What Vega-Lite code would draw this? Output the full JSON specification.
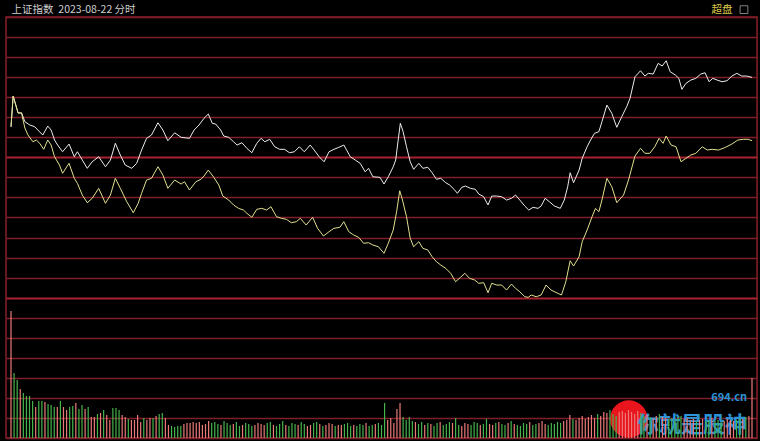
{
"$schema": "https://vega.github.io/schema/vega-lite/v6.json",
"width": 751, "height": 421,
"autosize": {"type": "none"},
"padding": {"left": 6, "top": 17, "right": 3, "bottom": 3},
"background": "#000000",
"config": {"view": {"stroke": "#8c1f2a", "strokeWidth": 1.5}, "font": "Noto Sans CJK SC"},
"datasets": {
"w": [{"m":0,"p":3103.70},{"m":0.7,"p":3114.45},{"m":2.3,"p":3108.50},{"m":3.4,"p":3108.61},{"m":4.5,"p":3105.45},{"m":6.1,"p":3104.30},{"m":7.7,"p":3103.70},{"m":8.7,"p":3102.55},{"m":10.3,"p":3100.80},{"m":11.9,"p":3103.95},{"m":13.0,"p":3102.55},{"m":14.1,"p":3099.05},{"m":15.1,"p":3097.30},{"m":16.7,"p":3094.95},{"m":18.8,"p":3097.65},{"m":20.5,"p":3093.20},{"m":21.5,"p":3094.95},{"m":23.1,"p":3092.05},{"m":24.7,"p":3089.15},{"m":26.3,"p":3091.45},{"m":28.4,"p":3093.20},{"m":30.6,"p":3089.70},{"m":32.2,"p":3092.05},{"m":33.8,"p":3097.90},{"m":35.4,"p":3093.80},{"m":37.0,"p":3090.30},{"m":39.1,"p":3089.15},{"m":40.7,"p":3090.90},{"m":42.3,"p":3095.55},{"m":43.9,"p":3099.65},{"m":45.5,"p":3100.80},{"m":47.6,"p":3105.10},{"m":49.2,"p":3102.55},{"m":50.8,"p":3098.80},{"m":53.0,"p":3101.60},{"m":55.1,"p":3100.00},{"m":57.8,"p":3099.65},{"m":59.3,"p":3102.55},{"m":60.9,"p":3104.30},{"m":62.5,"p":3106.65},{"m":63.9,"p":3108.15},{"m":65.2,"p":3104.90},{"m":66.3,"p":3104.65},{"m":67.9,"p":3102.55},{"m":68.9,"p":3100.45},{"m":70.5,"p":3100.00},{"m":72.1,"p":3098.45},{"m":73.2,"p":3097.30},{"m":74.8,"p":3098.11},{"m":76.4,"p":3096.15},{"m":78.0,"p":3094.61},{"m":79.6,"p":3097.90},{"m":81.0,"p":3099.65},{"m":82.2,"p":3098.45},{"m":83.8,"p":3099.30},{"m":85.4,"p":3096.70},{"m":87.0,"p":3095.80},{"m":88.6,"p":3095.80},{"m":90.2,"p":3094.61},{"m":91.8,"p":3094.95},{"m":93.4,"p":3096.70},{"m":95.0,"p":3094.95},{"m":96.9,"p":3097.30},{"m":98.2,"p":3095.55},{"m":99.8,"p":3093.20},{"m":101.4,"p":3091.45},{"m":103.0,"p":3094.95},{"m":104.6,"p":3095.80},{"m":106.2,"p":3096.50},{"m":107.8,"p":3097.30},{"m":109.9,"p":3093.20},{"m":111.5,"p":3092.05},{"m":113.1,"p":3090.90},{"m":114.7,"p":3087.95},{"m":115.8,"p":3089.15},{"m":117.2,"p":3086.20},{"m":119.5,"p":3085.99},{"m":120.8,"p":3083.65},{"m":122.2,"p":3086.20},{"m":123.8,"p":3089.70},{"m":124.6,"p":3092.05},{"m":125.4,"p":3099.05},{"m":126.1,"p":3104.90},{"m":127.0,"p":3101.96},{"m":128.1,"p":3096.70},{"m":129.3,"p":3091.45},{"m":130.4,"p":3088.80},{"m":132.1,"p":3090.90},{"m":133.4,"p":3089.15},{"m":135.0,"p":3089.50},{"m":136.4,"p":3087.60},{"m":137.8,"p":3085.30},{"m":139.2,"p":3085.65},{"m":140.8,"p":3084.11},{"m":142.1,"p":3083.30},{"m":143.5,"p":3081.80},{"m":144.6,"p":3080.40},{"m":146.0,"p":3082.50},{"m":147.2,"p":3082.95},{"m":148.8,"p":3082.15},{"m":150.4,"p":3081.80},{"m":151.5,"p":3080.15},{"m":153.1,"p":3079.21},{"m":154.5,"p":3076.30},{"m":155.7,"p":3079.45},{"m":157.3,"p":3079.45},{"m":158.9,"p":3079.21},{"m":160.5,"p":3078.05},{"m":162.1,"p":3078.65},{"m":163.4,"p":3079.80},{"m":164.8,"p":3078.05},{"m":166.4,"p":3075.95},{"m":167.7,"p":3074.55},{"m":169.1,"p":3075.50},{"m":170.7,"p":3075.14},{"m":171.7,"p":3075.95},{"m":173.0,"p":3078.65},{"m":174.4,"p":3077.45},{"m":176.0,"p":3075.95},{"m":177.9,"p":3075.14},{"m":179.2,"p":3078.05},{"m":180.3,"p":3082.70},{"m":181.1,"p":3087.60},{"m":182.2,"p":3084.11},{"m":184.0,"p":3088.55},{"m":185.0,"p":3092.64},{"m":186.6,"p":3096.70},{"m":187.7,"p":3099.05},{"m":189.0,"p":3101.40},{"m":190.4,"p":3101.96},{"m":191.4,"p":3105.45},{"m":193.0,"p":3111.30},{"m":194.6,"p":3108.40},{"m":196.2,"p":3103.50},{"m":197.8,"p":3107.20},{"m":199.4,"p":3110.70},{"m":200.5,"p":3113.65},{"m":202.1,"p":3121.20},{"m":203.9,"p":3123.30},{"m":205.3,"p":3121.45},{"m":206.4,"p":3122.40},{"m":208.0,"p":3122.15},{"m":209.6,"p":3125.90},{"m":210.9,"p":3124.95},{"m":212.2,"p":3126.80},{"m":213.5,"p":3122.96},{"m":215.2,"p":3121.80},{"m":216.3,"p":3120.64},{"m":217.3,"p":3116.80},{"m":218.6,"p":3118.90},{"m":220.2,"p":3120.05},{"m":221.8,"p":3120.64},{"m":223.4,"p":3122.15},{"m":224.8,"p":3122.61},{"m":226.1,"p":3119.46},{"m":227.3,"p":3120.64},{"m":228.7,"p":3120.05},{"m":230.3,"p":3119.46},{"m":231.9,"p":3119.81},{"m":233.5,"p":3121.45},{"m":235.1,"p":3122.40},{"m":236.7,"p":3121.45},{"m":238.3,"p":3121.45},{"m":240,"p":3120.99}],
"y": [{"m":0,"p":3103.70},{"m":0.7,"p":3114.45},{"m":2.3,"p":3108.50},{"m":3.4,"p":3108.50},{"m":4.5,"p":3103.25},{"m":5.5,"p":3100.80},{"m":7.1,"p":3098.45},{"m":8.2,"p":3099.05},{"m":9.3,"p":3097.90},{"m":10.6,"p":3095.80},{"m":11.9,"p":3099.05},{"m":13.0,"p":3097.30},{"m":14.1,"p":3093.20},{"m":15.7,"p":3090.30},{"m":16.7,"p":3087.40},{"m":18.8,"p":3090.90},{"m":20.5,"p":3085.65},{"m":21.5,"p":3083.90},{"m":23.1,"p":3079.80},{"m":24.7,"p":3077.11},{"m":26.3,"p":3078.65},{"m":28.4,"p":3082.15},{"m":30.6,"p":3076.90},{"m":32.2,"p":3079.80},{"m":33.8,"p":3085.65},{"m":35.4,"p":3082.15},{"m":37.5,"p":3077.45},{"m":39.6,"p":3073.60},{"m":41.2,"p":3076.90},{"m":42.3,"p":3080.40},{"m":43.9,"p":3085.05},{"m":45.5,"p":3085.65},{"m":47.6,"p":3089.70},{"m":49.2,"p":3086.80},{"m":50.8,"p":3082.15},{"m":53.0,"p":3085.05},{"m":55.1,"p":3083.65},{"m":56.2,"p":3084.46},{"m":57.8,"p":3081.55},{"m":59.9,"p":3084.46},{"m":61.5,"p":3085.30},{"m":62.5,"p":3086.45},{"m":63.9,"p":3088.55},{"m":65.7,"p":3085.99},{"m":67.3,"p":3083.30},{"m":68.6,"p":3079.45},{"m":70.5,"p":3078.05},{"m":72.1,"p":3076.30},{"m":73.7,"p":3075.14},{"m":75.3,"p":3074.55},{"m":76.4,"p":3073.40},{"m":78.0,"p":3072.00},{"m":79.6,"p":3074.80},{"m":81.2,"p":3075.14},{"m":82.8,"p":3074.55},{"m":84.2,"p":3075.70},{"m":86.0,"p":3072.21},{"m":87.6,"p":3071.65},{"m":89.2,"p":3071.30},{"m":90.8,"p":3070.11},{"m":92.4,"p":3070.46},{"m":93.7,"p":3071.65},{"m":95.6,"p":3069.30},{"m":97.7,"p":3072.00},{"m":99.3,"p":3068.15},{"m":101.2,"p":3065.45},{"m":103.0,"p":3066.96},{"m":104.6,"p":3068.15},{"m":106.5,"p":3068.50},{"m":107.8,"p":3070.46},{"m":109.4,"p":3066.96},{"m":111.0,"p":3065.80},{"m":112.6,"p":3064.99},{"m":114.2,"p":3062.90},{"m":115.8,"p":3063.11},{"m":117.2,"p":3062.30},{"m":119.0,"p":3061.70},{"m":120.8,"p":3059.40},{"m":122.2,"p":3062.90},{"m":123.8,"p":3067.55},{"m":124.9,"p":3073.96},{"m":125.9,"p":3081.30},{"m":126.8,"p":3078.05},{"m":128.1,"p":3072.21},{"m":129.3,"p":3064.65},{"m":130.4,"p":3061.70},{"m":132.1,"p":3063.46},{"m":133.4,"p":3061.14},{"m":135.0,"p":3060.55},{"m":136.4,"p":3058.20},{"m":137.8,"p":3056.46},{"m":139.2,"p":3055.30},{"m":140.8,"p":3054.14},{"m":142.4,"p":3052.40},{"m":144.0,"p":3049.46},{"m":145.6,"p":3051.00},{"m":147.0,"p":3052.40},{"m":148.5,"p":3050.64},{"m":150.2,"p":3050.05},{"m":151.5,"p":3048.90},{"m":153.1,"p":3049.11},{"m":154.5,"p":3045.61},{"m":155.7,"p":3048.90},{"m":157.3,"p":3048.30},{"m":158.9,"p":3048.30},{"m":160.5,"p":3046.55},{"m":162.1,"p":3048.65},{"m":163.4,"p":3047.14},{"m":164.8,"p":3045.95},{"m":166.4,"p":3044.20},{"m":167.5,"p":3043.99},{"m":168.5,"p":3044.80},{"m":170.1,"p":3044.20},{"m":171.7,"p":3044.80},{"m":173.3,"p":3048.30},{"m":174.9,"p":3046.55},{"m":177.1,"p":3045.40},{"m":178.3,"p":3044.80},{"m":179.7,"p":3049.46},{"m":181.1,"p":3056.80},{"m":182.2,"p":3054.95},{"m":184.0,"p":3058.20},{"m":185.0,"p":3063.46},{"m":186.6,"p":3067.55},{"m":188.2,"p":3072.21},{"m":189.3,"p":3075.14},{"m":190.4,"p":3073.96},{"m":191.4,"p":3078.05},{"m":193.0,"p":3085.65},{"m":194.6,"p":3082.70},{"m":196.2,"p":3077.11},{"m":198.4,"p":3079.80},{"m":200.0,"p":3085.05},{"m":202.1,"p":3093.45},{"m":203.9,"p":3096.15},{"m":205.3,"p":3094.40},{"m":206.9,"p":3094.40},{"m":208.5,"p":3096.70},{"m":209.9,"p":3099.65},{"m":211.2,"p":3097.90},{"m":212.2,"p":3100.45},{"m":213.8,"p":3097.30},{"m":215.4,"p":3096.70},{"m":217.0,"p":3091.45},{"m":218.6,"p":3092.64},{"m":220.2,"p":3093.80},{"m":221.8,"p":3094.40},{"m":223.9,"p":3096.70},{"m":225.5,"p":3095.55},{"m":227.1,"p":3095.80},{"m":229.2,"p":3095.55},{"m":231.4,"p":3096.50},{"m":233.5,"p":3097.65},{"m":235.4,"p":3099.05},{"m":237.2,"p":3099.30},{"m":238.8,"p":3099.30},{"m":240,"p":3098.80}],
"vol": [{"m":0,"v":127,"d":"up"},{"m":1,"v":65,"d":"dn"},{"m":2,"v":58,"d":"dn"},{"m":3,"v":49,"d":"up"},{"m":4,"v":45,"d":"dn"},{"m":5,"v":42,"d":"dn"},{"m":6,"v":42,"d":"dn"},{"m":7,"v":37,"d":"dn"},{"m":8,"v":31,"d":"up"},{"m":9,"v":37,"d":"dn"},{"m":10,"v":37,"d":"dn"},{"m":11,"v":36,"d":"up"},{"m":12,"v":34,"d":"dn"},{"m":13,"v":33,"d":"dn"},{"m":14,"v":31,"d":"dn"},{"m":15,"v":31,"d":"up"},{"m":16,"v":37,"d":"dn"},{"m":17,"v":31,"d":"up"},{"m":18,"v":28,"d":"up"},{"m":19,"v":31,"d":"dn"},{"m":20,"v":32,"d":"dn"},{"m":21,"v":35,"d":"up"},{"m":22,"v":29,"d":"dn"},{"m":23,"v":33,"d":"dn"},{"m":24,"v":29,"d":"up"},{"m":25,"v":31,"d":"dn"},{"m":26,"v":21,"d":"up"},{"m":27,"v":21,"d":"up"},{"m":28,"v":24,"d":"dn"},{"m":29,"v":25,"d":"up"},{"m":30,"v":28,"d":"dn"},{"m":31,"v":23,"d":"up"},{"m":32,"v":18,"d":"up"},{"m":33,"v":30,"d":"dn"},{"m":34,"v":30,"d":"dn"},{"m":35,"v":28,"d":"dn"},{"m":36,"v":23,"d":"up"},{"m":37,"v":21,"d":"up"},{"m":38,"v":19,"d":"dn"},{"m":39,"v":18,"d":"up"},{"m":40,"v":18,"d":"up"},{"m":41,"v":23,"d":"up"},{"m":42,"v":16,"d":"up"},{"m":43,"v":20,"d":"dn"},{"m":44,"v":18,"d":"up"},{"m":45,"v":20,"d":"up"},{"m":46,"v":20,"d":"dn"},{"m":47,"v":22,"d":"up"},{"m":48,"v":24,"d":"dn"},{"m":49,"v":25,"d":"dn"},{"m":50,"v":20,"d":"up"},{"m":51,"v":13,"d":"up"},{"m":52,"v":12,"d":"dn"},{"m":53,"v":11,"d":"dn"},{"m":54,"v":12,"d":"dn"},{"m":55,"v":12,"d":"dn"},{"m":56,"v":14,"d":"up"},{"m":57,"v":15,"d":"up"},{"m":58,"v":15,"d":"up"},{"m":59,"v":16,"d":"up"},
{"m":60,"v":15,"d":"up"},{"m":61,"v":16,"d":"up"},{"m":62,"v":13,"d":"up"},{"m":63,"v":14,"d":"up"},{"m":64,"v":17,"d":"up"},{"m":65,"v":15,"d":"dn"},{"m":66,"v":16,"d":"dn"},{"m":67,"v":14,"d":"dn"},{"m":68,"v":13,"d":"up"},{"m":69,"v":17,"d":"dn"},{"m":70,"v":15,"d":"dn"},{"m":71,"v":13,"d":"dn"},{"m":72,"v":14,"d":"up"},{"m":73,"v":16,"d":"dn"},{"m":74,"v":12,"d":"dn"},{"m":75,"v":13,"d":"up"},{"m":76,"v":15,"d":"dn"},{"m":77,"v":14,"d":"dn"},{"m":78,"v":12,"d":"dn"},{"m":79,"v":13,"d":"up"},{"m":80,"v":15,"d":"up"},{"m":81,"v":14,"d":"up"},{"m":82,"v":13,"d":"up"},{"m":83,"v":15,"d":"dn"},{"m":84,"v":16,"d":"dn"},{"m":85,"v":13,"d":"up"},{"m":86,"v":12,"d":"dn"},{"m":87,"v":14,"d":"dn"},{"m":88,"v":17,"d":"dn"},{"m":89,"v":13,"d":"up"},{"m":90,"v":12,"d":"dn"},{"m":91,"v":15,"d":"dn"},{"m":92,"v":14,"d":"dn"},{"m":93,"v":13,"d":"up"},{"m":94,"v":16,"d":"dn"},{"m":95,"v":14,"d":"dn"},{"m":96,"v":12,"d":"up"},{"m":97,"v":13,"d":"up"},{"m":98,"v":15,"d":"dn"},{"m":99,"v":16,"d":"dn"},{"m":100,"v":14,"d":"up"},{"m":101,"v":12,"d":"dn"},{"m":102,"v":13,"d":"up"},{"m":103,"v":15,"d":"up"},{"m":104,"v":14,"d":"up"},{"m":105,"v":12,"d":"dn"},{"m":106,"v":13,"d":"up"},{"m":107,"v":13,"d":"up"},{"m":108,"v":14,"d":"dn"},{"m":109,"v":15,"d":"dn"},{"m":110,"v":12,"d":"dn"},{"m":111,"v":13,"d":"up"},{"m":112,"v":12,"d":"dn"},{"m":113,"v":14,"d":"dn"},{"m":114,"v":13,"d":"dn"},{"m":115,"v":15,"d":"up"},{"m":116,"v":12,"d":"dn"},{"m":117,"v":13,"d":"dn"},{"m":118,"v":14,"d":"up"},{"m":119,"v":15,"d":"dn"},{"m":120,"v":13,"d":"dn"},
{"m":121,"v":35,"d":"dn"},{"m":122,"v":18,"d":"up"},{"m":123,"v":20,"d":"up"},{"m":124,"v":15,"d":"up"},{"m":125,"v":29,"d":"up"},{"m":126,"v":35,"d":"up"},{"m":127,"v":21,"d":"dn"},{"m":128,"v":18,"d":"dn"},{"m":129,"v":21,"d":"dn"},{"m":130,"v":17,"d":"dn"},{"m":131,"v":16,"d":"up"},{"m":132,"v":14,"d":"dn"},{"m":133,"v":16,"d":"dn"},{"m":134,"v":13,"d":"up"},{"m":135,"v":15,"d":"dn"},{"m":136,"v":14,"d":"up"},{"m":137,"v":12,"d":"dn"},{"m":138,"v":15,"d":"dn"},{"m":139,"v":16,"d":"up"},{"m":140,"v":13,"d":"dn"},{"m":141,"v":14,"d":"dn"},{"m":142,"v":16,"d":"dn"},{"m":143,"v":15,"d":"up"},{"m":144,"v":20,"d":"dn"},{"m":145,"v":13,"d":"dn"},{"m":146,"v":12,"d":"up"},{"m":147,"v":15,"d":"up"},{"m":148,"v":14,"d":"up"},{"m":149,"v":13,"d":"dn"},{"m":150,"v":16,"d":"dn"},{"m":151,"v":15,"d":"dn"},{"m":152,"v":13,"d":"up"},{"m":153,"v":14,"d":"dn"},{"m":154,"v":19,"d":"dn"},{"m":155,"v":14,"d":"up"},{"m":156,"v":13,"d":"up"},{"m":157,"v":15,"d":"dn"},{"m":158,"v":16,"d":"up"},{"m":159,"v":14,"d":"dn"},{"m":160,"v":13,"d":"dn"},{"m":161,"v":15,"d":"up"},{"m":162,"v":17,"d":"dn"},{"m":163,"v":14,"d":"up"},{"m":164,"v":13,"d":"dn"},{"m":165,"v":12,"d":"dn"},{"m":166,"v":15,"d":"dn"},{"m":167,"v":14,"d":"dn"},{"m":168,"v":16,"d":"up"},{"m":169,"v":13,"d":"dn"},{"m":170,"v":14,"d":"dn"},{"m":171,"v":15,"d":"up"},{"m":172,"v":17,"d":"up"},{"m":173,"v":14,"d":"up"},{"m":174,"v":13,"d":"dn"},{"m":175,"v":15,"d":"dn"},{"m":176,"v":14,"d":"dn"},{"m":177,"v":16,"d":"dn"},{"m":178,"v":15,"d":"dn"},{"m":179,"v":17,"d":"up"},{"m":180,"v":18,"d":"up"},{"m":181,"v":23,"d":"up"},{"m":182,"v":19,"d":"dn"},{"m":183,"v":18,"d":"up"},{"m":184,"v":20,"d":"up"},{"m":185,"v":22,"d":"up"},{"m":186,"v":19,"d":"up"},{"m":187,"v":21,"d":"up"},{"m":188,"v":23,"d":"up"},{"m":189,"v":20,"d":"up"},{"m":190,"v":24,"d":"dn"},{"m":191,"v":22,"d":"up"},{"m":192,"v":26,"d":"up"},{"m":193,"v":25,"d":"up"},{"m":194,"v":28,"d":"dn"},{"m":195,"v":24,"d":"dn"},{"m":196,"v":22,"d":"dn"},{"m":197,"v":26,"d":"up"},{"m":198,"v":27,"d":"up"},{"m":199,"v":25,"d":"up"},{"m":200,"v":28,"d":"up"},{"m":201,"v":26,"d":"up"},{"m":202,"v":24,"d":"up"},{"m":203,"v":27,"d":"up"},{"m":204,"v":25,"d":"dn"},{"m":205,"v":22,"d":"dn"},{"m":206,"v":23,"d":"up"},{"m":207,"v":21,"d":"dn"},{"m":208,"v":20,"d":"up"},{"m":209,"v":22,"d":"up"},{"m":210,"v":24,"d":"dn"},{"m":211,"v":21,"d":"up"},{"m":212,"v":20,"d":"up"},{"m":213,"v":19,"d":"dn"},{"m":214,"v":20,"d":"dn"},{"m":215,"v":18,"d":"dn"},{"m":216,"v":21,"d":"dn"},{"m":217,"v":22,"d":"dn"},{"m":218,"v":19,"d":"up"},{"m":219,"v":20,"d":"up"},{"m":220,"v":18,"d":"up"},{"m":221,"v":19,"d":"up"},{"m":222,"v":17,"d":"dn"},{"m":223,"v":18,"d":"up"},{"m":224,"v":19,"d":"up"},{"m":225,"v":17,"d":"dn"},{"m":226,"v":18,"d":"dn"},{"m":227,"v":20,"d":"up"},{"m":228,"v":17,"d":"dn"},{"m":229,"v":18,"d":"dn"},{"m":230,"v":16,"d":"dn"},{"m":231,"v":17,"d":"up"},{"m":232,"v":19,"d":"up"},{"m":233,"v":18,"d":"up"},{"m":234,"v":17,"d":"up"},{"m":235,"v":18,"d":"dn"},{"m":236,"v":20,"d":"dn"},{"m":237,"v":19,"d":"up"},{"m":238,"v":21,"d":"dn"},{"m":239,"v":22,"d":"up"},{"m":240,"v":60,"d":"up"}]
},
"layer": [
{"layer": [
 {"data": {"name": "w"},
  "mark": {"type": "line", "color": "#ececec", "strokeWidth": 1},
  "encoding": {
   "x": {"field": "m", "type": "quantitative", "scale": {"domain": [0, 240], "nice": false, "zero": false},
     "axis": {"values": [0, 30, 60, 90, 120, 150, 180, 210, 240], "tickCount": 20, "labels": false, "ticks": false, "domain": false, "title": null, "grid": true,
       "gridColor": {"condition": {"test": "datum.value == 120", "value": "#b0222e"}, "value": "#9a2a36"},
       "gridDash": {"condition": {"test": "datum.value == 120", "value": []}, "value": [1, 2]},
       "gridWidth": {"condition": {"test": "datum.value == 120", "value": 1.5}, "value": 1},
       "gridOpacity": {"condition": {"test": "datum.value == 60 || datum.value == 180 || datum.value == 120", "value": 1}, "value": 0.55}}},
   "y": {"field": "p", "type": "quantitative", "scale": {"domain": [2994.75, 3142.12], "nice": false, "zero": false},
     "axis": {"values": [2994.75, 3001.77, 3008.79, 3015.8, 3022.82, 3029.84, 3036.86, 3043.87, 3050.89, 3057.91, 3064.93, 3071.94, 3078.96, 3085.98, 3093.0, 3100.01, 3107.03, 3114.05, 3121.07, 3128.08, 3135.1, 3142.12],
       "tickCount": 40, "labels": false, "ticks": false, "domain": false, "title": null, "grid": true,
       "gridColor": {"condition": {"test": "abs(datum.value-3093)<1 || abs(datum.value-3043.87)<1", "value": "#a8222e"}, "value": "#7e1e2a"},
       "gridWidth": {"condition": {"test": "abs(datum.value-3093)<1 || abs(datum.value-3043.87)<1", "value": 2.2}, "value": 1.4}}}
  }},
 {"data": {"name": "y"},
  "mark": {"type": "line", "color": "#e2e08e", "strokeWidth": 1},
  "encoding": {"x": {"field": "m", "type": "quantitative"}, "y": {"field": "p", "type": "quantitative"}}},
 {"data": {"values": [{"t": "上证指数\u00a0\u00a02023-08-22\u00a0分时", "m": 0.2, "p": 3144.5}]},
  "mark": {"type": "text", "color": "#cfcfcf", "fontSize": 10.5, "baseline": "middle", "align": "left", "font": "Noto Sans CJK SC"},
  "encoding": {"x": {"field": "m", "type": "quantitative"}, "y": {"field": "p", "type": "quantitative"}, "text": {"field": "t"}}},
 {"data": {"values": [{"t": "超盘", "m": 230.3, "p": 3144.6}]},
  "mark": {"type": "text", "color": "#dcc84a", "fontSize": 10.5, "baseline": "middle", "align": "center", "font": "Noto Sans CJK SC"},
  "encoding": {"x": {"field": "m", "type": "quantitative"}, "y": {"field": "p", "type": "quantitative"}, "text": {"field": "t"}}},
 {"data": {"values": [{"m": 237.4, "p": 3144.7}]},
  "mark": {"type": "point", "shape": "square", "filled": false, "color": "#bbbbbb", "size": 60, "strokeWidth": 1},
  "encoding": {"x": {"field": "m", "type": "quantitative"}, "y": {"field": "p", "type": "quantitative"}}},
 {"data": {"values": [{"m": 200.1, "p": 3001.4}]},
  "mark": {"type": "point", "shape": "circle", "filled": true, "color": "#e8161c", "opacity": 1, "size": 1400},
  "encoding": {"x": {"field": "m", "type": "quantitative"}, "y": {"field": "p", "type": "quantitative"}}},
 {"data": {"values": [{"t": "你就是股神", "m": 220.6, "p": 2999.4, "s": 22}, {"t": "694.cn", "m": 232.6, "p": 3008.6, "s": 11}]},
  "mark": {"type": "text", "color": "#2b93d6", "fontWeight": "bold", "baseline": "middle", "align": "center", "font": "Noto Sans CJK SC"},
  "encoding": {"x": {"field": "m", "type": "quantitative"}, "y": {"field": "p", "type": "quantitative"}, "text": {"field": "t"}, "size": {"field": "s", "type": "quantitative", "scale": null}}}
]},
{"data": {"name": "vol"},
 "mark": {"type": "bar", "width": 1.2},
 "encoding": {
  "x": {"field": "m", "type": "quantitative", "axis": null},
  "y": {"field": "v", "type": "quantitative", "scale": {"domain": [0, 421], "nice": false}, "axis": null},
  "color": {"field": "d", "type": "nominal", "scale": {"domain": ["up", "dn"], "range": ["#ec7a7a", "#45b44e"]}, "legend": null}
 }}
],
"resolve": {"scale": {"y": "independent"}}
}
